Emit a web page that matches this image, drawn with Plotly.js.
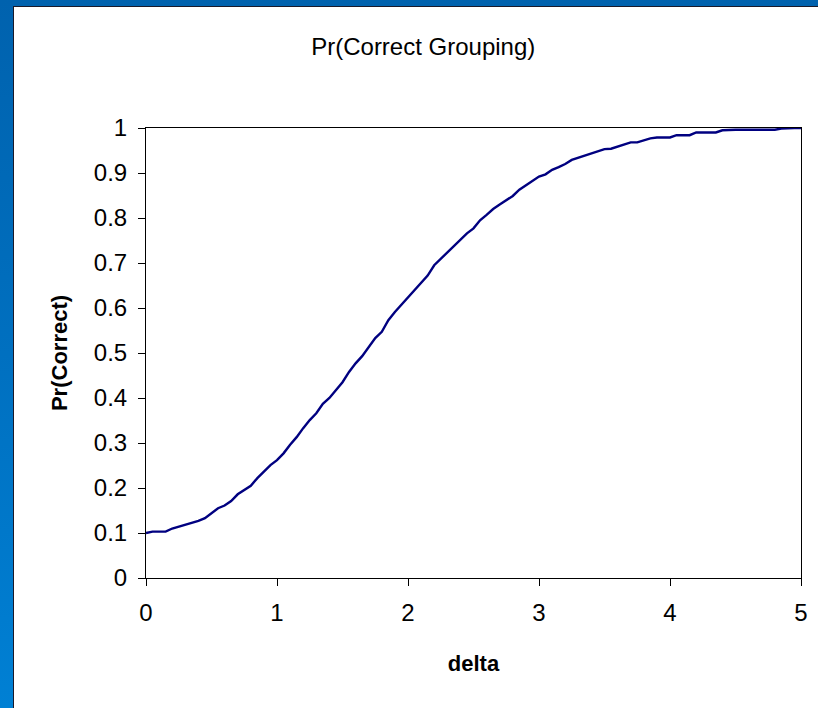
<!DOCTYPE html>
<html>
<head>
<meta charset="utf-8">
<script src="https://cdn.plot.ly/plotly-3.0.1.min.js"></script>
<style>
html,body{margin:0;padding:0;width:818px;height:708px;overflow:hidden;}
body{background:linear-gradient(to bottom,#0062ae 0%,#0070c0 50%,#0080d4 100%);position:relative;}
#chart{position:absolute;left:13px;top:6px;width:804px;height:701px;border-left:1px solid #1a1a2a;border-top:1px solid #1a1a2a;background:#fff;}
</style>
</head>
<body>
<div id="chart"></div>
<script>
const delta = [0.00,0.05,0.10,0.15,0.20,0.25,0.30,0.35,0.40,0.45,0.50,0.55,0.60,0.65,0.70,0.75,0.80,0.85,0.90,0.95,
1.00,1.05,1.10,1.15,1.20,1.25,1.30,1.35,1.40,1.45,1.50,1.55,1.60,1.65,1.70,1.75,1.80,1.85,1.90,1.95,
2.00,2.05,2.10,2.15,2.20,2.25,2.30,2.35,2.40,2.45,2.50,2.55,2.60,2.65,2.70,2.75,2.80,2.85,2.90,2.95,
3.00,3.05,3.10,3.15,3.20,3.25,3.30,3.35,3.40,3.45,3.50,3.55,3.60,3.65,3.70,3.75,3.80,3.85,3.90,3.95,
4.00,4.05,4.10,4.15,4.20,4.25,4.30,4.35,4.40,4.45,4.50,4.55,4.60,4.65,4.70,4.75,4.80,4.85,4.90,4.95,5.00];
const prCorrect = [0.100,0.103,0.103,0.103,0.110,0.114,0.118,0.122,0.127,0.133,0.143,0.155,0.161,0.171,0.186,0.195,0.205,0.222,0.237,0.251,
0.262,0.277,0.296,0.313,0.333,0.351,0.366,0.387,0.400,0.418,0.435,0.458,0.477,0.493,0.512,0.533,0.547,0.573,0.591,0.607,
0.624,0.638,0.654,0.672,0.695,0.709,0.723,0.738,0.753,0.766,0.777,0.795,0.807,0.820,0.830,0.840,0.849,0.863,0.873,0.884,
0.892,0.897,0.907,0.913,0.920,0.929,0.934,0.939,0.944,0.948,0.953,0.954,0.959,0.964,0.968,0.968,0.973,0.977,0.979,0.979,
0.979,0.984,0.984,0.984,0.990,0.990,0.990,0.990,0.995,0.996,0.996,0.996,0.996,0.996,0.996,0.996,0.996,0.999,1.000,1.000,1.000];
const xTicks = [0,1,2,3,4,5];
const yTicks = [0,0.1,0.2,0.3,0.4,0.5,0.6,0.7,0.8,0.9,1];
const yTickText = ['0','0.1','0.2','0.3','0.4','0.5','0.6','0.7','0.8','0.9','1'];

const trace = {
  x: delta, y: prCorrect, type: 'scatter', mode: 'lines',
  line: {color: '#000080', width: 2.4},
  hoverinfo: 'x+y'
};
const fam = 'Arial, "Liberation Sans", sans-serif';
const tickFont = {family: fam, size: 24, color: '#000'};
const layout = {
  width: 804, height: 701,
  margin: {l: 132, r: 17, t: 121, b: 130, pad: 0},
  paper_bgcolor: '#ffffff', plot_bgcolor: '#ffffff',
  showlegend: false,
  font: {family: fam, size: 24, color: '#000'},
  title: {text: 'Pr(Correct Grouping)', font: {family: fam, size: 24, color: '#000'},
          x: 0.509, xanchor: 'center', xref: 'container', y: 1 - 40/701, yanchor: 'middle', yref: 'container'},
  xaxis: {
    range: [0, 5], tickvals: xTicks, ticktext: xTicks.map(String),
    showgrid: false, zeroline: false,
    showline: true, linecolor: '#000', linewidth: 1, mirror: true,
    ticks: 'outside', ticklen: 7, tickcolor: '#000', tickwidth: 1,
    tickfont: tickFont, ticklabelstandoff: 6,
    title: {text: '<b>delta</b>', font: {family: fam, size: 22, color: '#000'}, standoff: 30}
  },
  yaxis: {
    range: [0, 1], tickvals: yTicks, ticktext: yTickText,
    showgrid: false, zeroline: false,
    showline: true, linecolor: '#000', linewidth: 1, mirror: true,
    ticks: 'outside', ticklen: 7, tickcolor: '#000', tickwidth: 1,
    tickfont: tickFont, ticklabelstandoff: 6,
    title: {text: '<b>Pr(Correct)</b>', font: {family: fam, size: 22, color: '#000'}, standoff: 20}
  }
};
Plotly.newPlot('chart', [trace], layout, {displayModeBar: false, staticPlot: true});
</script>
</body>
</html>
